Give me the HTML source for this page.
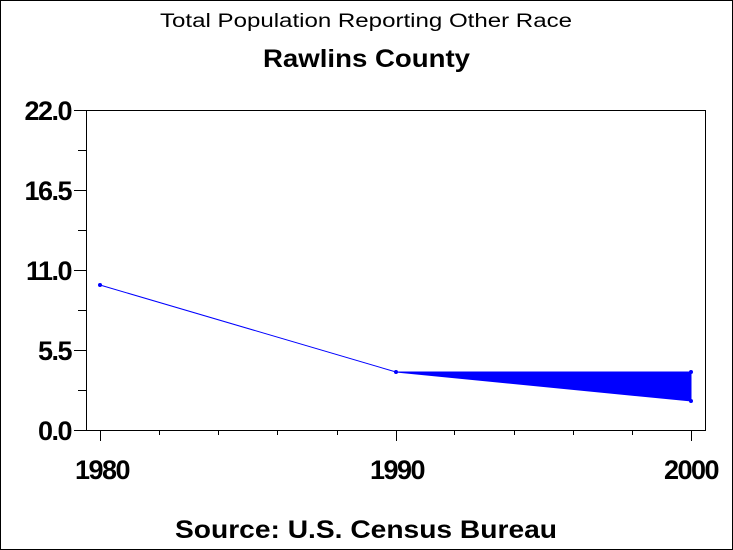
<!DOCTYPE html>
<html><head><style>
html,body{margin:0;padding:0;background:#fff;}
svg{display:block;}
text{font-family:"Liberation Sans",Arial,sans-serif;fill:#000;}
</style></head><body>
<svg width="733" height="550" viewBox="0 0 733 550" xmlns="http://www.w3.org/2000/svg">
<rect x="0.5" y="0.5" width="732" height="549" fill="#fff" stroke="#000" stroke-width="1"/>
<text x="160" y="27" font-size="19" textLength="412" lengthAdjust="spacingAndGlyphs">Total Population Reporting Other Race</text>
<text x="263" y="67" font-size="25" font-weight="bold" textLength="207" lengthAdjust="spacingAndGlyphs">Rawlins County</text>
<rect x="86.5" y="110.5" width="619" height="320" fill="none" stroke="#000" stroke-width="1"/>
<g stroke="#000" stroke-width="1">
<line x1="74" y1="110.5" x2="86" y2="110.5"/>
<line x1="78" y1="150.5" x2="86" y2="150.5"/>
<line x1="74" y1="190.5" x2="86" y2="190.5"/>
<line x1="78" y1="230.5" x2="86" y2="230.5"/>
<line x1="74" y1="270.5" x2="86" y2="270.5"/>
<line x1="78" y1="310.5" x2="86" y2="310.5"/>
<line x1="74" y1="350.5" x2="86" y2="350.5"/>
<line x1="78" y1="390.5" x2="86" y2="390.5"/>
<line x1="74" y1="430.5" x2="86" y2="430.5"/>
<line x1="100.5" y1="430" x2="100.5" y2="441"/>
<line x1="159.5" y1="430" x2="159.5" y2="435"/>
<line x1="218.5" y1="430" x2="218.5" y2="435"/>
<line x1="277.5" y1="430" x2="277.5" y2="435"/>
<line x1="337.5" y1="430" x2="337.5" y2="435"/>
<line x1="396.5" y1="430" x2="396.5" y2="441"/>
<line x1="454.5" y1="430" x2="454.5" y2="435"/>
<line x1="514.5" y1="430" x2="514.5" y2="435"/>
<line x1="573.5" y1="430" x2="573.5" y2="435"/>
<line x1="632.5" y1="430" x2="632.5" y2="435"/>
<line x1="691.5" y1="430" x2="691.5" y2="441"/>
</g>
<g font-size="27" font-weight="bold" text-anchor="end" letter-spacing="-1.5">
<text x="71" y="120">22.0</text>
<text x="71" y="200">16.5</text>
<text x="71" y="280">11.0</text>
<text x="71" y="360">5.5</text>
<text x="71" y="440">0.0</text>
</g>
<g font-size="27" font-weight="bold" text-anchor="middle" letter-spacing="-1.5">
<text x="102" y="479">1980</text>
<text x="397" y="479">1990</text>
<text x="691" y="479">2000</text>
</g>
<text x="175" y="538" font-size="25" font-weight="bold" textLength="382" lengthAdjust="spacingAndGlyphs">Source: U.S. Census Bureau</text>
<polyline points="100,285 396,372" fill="none" stroke="#0000ff" stroke-width="1"/>
<polygon points="396,372 691,372 691,401" fill="#0000ff" stroke="#0000ff" stroke-width="1"/>
<circle cx="100" cy="285" r="2" fill="#0000ff"/>
<circle cx="396" cy="372" r="2" fill="#0000ff"/>
<circle cx="691" cy="372" r="2" fill="#0000ff"/>
<circle cx="691" cy="401" r="2" fill="#0000ff"/>
</svg>
</body></html>
